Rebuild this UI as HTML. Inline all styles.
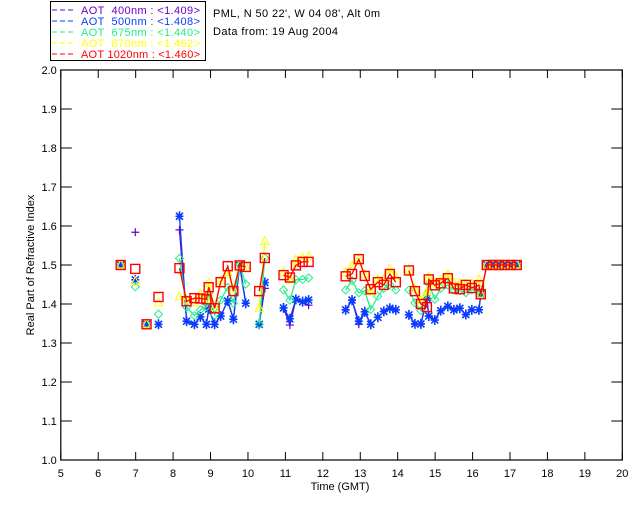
<!DOCTYPE html>
<html><head><meta charset="utf-8"><style>
body{margin:0;background:#fff;}
svg{display:block;font-family:"Liberation Sans","DejaVu Sans",sans-serif;}
</style></head><body>
<svg id="c" width="640" height="512" viewBox="0 0 640 512">
<g>
<rect x="50.5" y="1.5" width="155" height="59" fill="#fff" stroke="#000"/>
<g font-size="11">
<line x1="52" y1="10" x2="75" y2="10" stroke="#6a00c8" stroke-dasharray="5,3"/>
<text x="81" y="14" fill="#6a00c8" textLength="119" lengthAdjust="spacing" xml:space="preserve">AOT  400nm : &lt;1.409&gt;</text>
<line x1="52" y1="21" x2="75" y2="21" stroke="#0a3cff" stroke-dasharray="5,3"/>
<text x="81" y="25" fill="#0a3cff" textLength="119" lengthAdjust="spacing" xml:space="preserve">AOT  500nm : &lt;1.408&gt;</text>
<line x1="52" y1="32" x2="75" y2="32" stroke="#22ee88" stroke-dasharray="5,3"/>
<text x="81" y="36" fill="#22ee88" textLength="119" lengthAdjust="spacing" xml:space="preserve">AOT  675nm : &lt;1.440&gt;</text>
<line x1="52" y1="43" x2="75" y2="43" stroke="#ffff00" stroke-dasharray="5,3"/>
<text x="81" y="47" fill="#ffff00" textLength="119" lengthAdjust="spacing" xml:space="preserve">AOT  870nm : &lt;1.462&gt;</text>
<line x1="52" y1="54" x2="75" y2="54" stroke="#ff0000" stroke-dasharray="5,3"/>
<text x="81" y="58" fill="#ff0000" textLength="119" lengthAdjust="spacing" xml:space="preserve">AOT 1020nm : &lt;1.460&gt;</text>
</g></g>
<text x="213" y="17" font-size="11" textLength="167" lengthAdjust="spacing">PML, N 50 22', W 04 08', Alt 0m</text>
<text x="213" y="35" font-size="11" textLength="125" lengthAdjust="spacing">Data from: 19 Aug 2004</text>
<g id="axes"></g>
<g id="plot"></g>
<text x="340" y="490" font-size="11" text-anchor="middle">Time (GMT)</text>
<text transform="translate(34,265) rotate(-90)" font-size="11" text-anchor="middle">Real Part of Refractive Index</text>
</svg>
<script>
const times=[6.6,6.99,7.29,7.61,8.17,8.36,8.57,8.73,8.89,8.95,9.11,9.27,9.46,9.61,9.78,9.94,10.3,10.45,10.95,11.12,11.28,11.46,11.62,12.61,12.78,12.96,13.12,13.28,13.47,13.63,13.79,13.95,14.3,14.46,14.62,14.78,14.83,14.99,15.15,15.34,15.5,15.66,15.82,15.98,16.17,16.22,16.38,16.54,16.7,16.86,17.02,17.18];
const v400=[1.5,1.584,1.348,1.348,1.59,1.356,1.348,1.367,1.348,1.387,1.348,1.369,1.408,1.361,1.499,1.402,1.348,1.44,1.39,1.346,1.412,1.406,1.397,1.385,1.41,1.348,1.38,1.348,1.366,1.381,1.389,1.385,1.372,1.349,1.349,1.41,1.369,1.359,1.383,1.394,1.385,1.389,1.373,1.385,1.385,1.425,1.5,1.5,1.5,1.5,1.5,1.5];
const v500=[1.5,1.462,1.348,1.348,1.625,1.356,1.348,1.367,1.348,1.387,1.348,1.369,1.408,1.361,1.499,1.402,1.348,1.455,1.39,1.362,1.412,1.406,1.41,1.385,1.41,1.356,1.38,1.348,1.366,1.381,1.389,1.385,1.372,1.349,1.349,1.415,1.369,1.359,1.383,1.394,1.385,1.389,1.373,1.385,1.385,1.425,1.5,1.5,1.5,1.5,1.5,1.5];
const v675=[1.5,1.444,1.348,1.374,1.517,1.392,1.37,1.385,1.393,1.427,1.372,1.41,1.443,1.402,1.499,1.451,1.348,1.518,1.436,1.41,1.462,1.463,1.467,1.436,1.46,1.429,1.434,1.386,1.42,1.44,1.449,1.436,1.436,1.403,1.383,1.426,1.453,1.412,1.44,1.449,1.436,1.434,1.429,1.436,1.44,1.425,1.5,1.5,1.5,1.5,1.5,1.5];
const v870=[1.5,1.457,1.348,1.403,1.419,1.41,1.403,1.425,1.413,1.453,1.391,1.459,1.48,1.438,1.499,1.497,1.389,1.56,1.48,1.462,1.513,1.517,1.521,1.48,1.497,1.515,1.475,1.431,1.462,1.462,1.489,1.47,1.487,1.438,1.408,1.431,1.468,1.453,1.46,1.474,1.453,1.454,1.451,1.451,1.462,1.425,1.5,1.5,1.5,1.5,1.5,1.5];
const v1020=[1.5,1.49,1.348,1.418,1.492,1.407,1.415,1.414,1.412,1.443,1.389,1.456,1.497,1.433,1.499,1.495,1.433,1.518,1.474,1.468,1.499,1.508,1.508,1.471,1.477,1.515,1.472,1.438,1.456,1.449,1.477,1.456,1.486,1.433,1.40,1.392,1.463,1.448,1.453,1.466,1.44,1.438,1.449,1.441,1.448,1.425,1.5,1.5,1.5,1.5,1.5,1.5];
const xTicks=[5,6,7,8,9,10,11,12,13,14,15,16,17,18,19,20];
const yTicks=[1.0,1.1,1.2,1.3,1.4,1.5,1.6,1.7,1.8,1.9,2.0];

const X0=60.8,X1=622.3,Y0=460,Y1=70;
function sx(t){return X0+(t-5)/15*(X1-X0);}
function sy(v){return Y0-(v-1)/1*(Y0-Y1);}
const NS='http://www.w3.org/2000/svg';
function mk(tag,attrs,parent){const e=document.createElementNS(NS,tag);for(const k in attrs)e.setAttribute(k,attrs[k]);parent.appendChild(e);return e;}
const axes=document.getElementById('axes'),plot=document.getElementById('plot');
const frame=mk('rect',{x:X0,y:Y1,width:X1-X0,height:Y0-Y1,fill:'none',stroke:'#000','stroke-width':1.2},axes);


xTicks.forEach(t=>{
 const x=sx(t);
 const a=mk('line',{x1:x,y1:Y0,x2:x,y2:Y0-8,stroke:'#000'},axes);
 
 
 const b=mk('line',{x1:x,y1:Y1,x2:x,y2:Y1+8,stroke:'#000'},axes);
 
 
 const l=mk('text',{x:x,y:Y0+17,'font-size':11,'text-anchor':'middle'},axes);l.textContent=String(t);
 
 
});
yTicks.forEach(v=>{
 const y=sy(v);
 const a=mk('line',{x1:X0,y1:y,x2:X0+11,y2:y,stroke:'#000'},axes);
 
 
 const b=mk('line',{x1:X1,y1:y,x2:X1-11,y2:y,stroke:'#000'},axes);
 
 
 const l=mk('text',{x:X0-4,y:y+4,'font-size':11,'text-anchor':'end'},axes);l.textContent=v.toFixed(1);
 
 
});
function marker(type,x,y,c,g){
 let e;
 if(type==='plus'){e=mk('path',{d:`M${x-4},${y}H${x+4}M${x},${y-4}V${y+4}`,stroke:c,'stroke-width':1.2,fill:'none'},g);}
 else if(type==='star'){e=mk('path',{d:`M${x-4},${y}H${x+4}M${x},${y-5}V${y+5}M${x-3.5},${y-3.5}L${x+3.5},${y+3.5}M${x-3.5},${y+3.5}L${x+3.5},${y-3.5}`,stroke:c,'stroke-width':1.6,fill:'none'},g);}
 else if(type==='diamond'){e=mk('path',{d:`M${x},${y-4}L${x+4},${y}L${x},${y+4}L${x-4},${y}Z`,stroke:c,'stroke-width':1,fill:'none'},g);}
 else if(type==='tri'){e=mk('path',{d:`M${x},${y-5}L${x+4},${y+3}L${x-4},${y+3}Z`,stroke:c,'stroke-width':1,fill:'none'},g);}
 else {e=mk('rect',{x:x-4.5,y:y-4.5,width:9,height:9,stroke:c,'stroke-width':1.4,fill:'none'},g);}
 
 
}
const series=[['aot-400',v400,'#6a00c8','plus'],['aot-500',v500,'#0a3cff','star'],['aot-675',v675,'#22ee88','diamond'],['aot-870',v870,'#ffff00','tri'],['aot-1020',v1020,'#ff0000','sq']];
series.forEach(([name,vals,c,m])=>{
 const g=mk('g',{},plot);
 
 
 let d='';
 for(let i=0;i<times.length;i++){
  const x=sx(times[i]).toFixed(1),y=sy(vals[i]).toFixed(1);
  const conn=i>0&&times[i]-times[i-1]<0.25;
  d+=(conn?'L':'M')+x+','+y;
 }
 const p=mk('path',{d:d,stroke:c,'stroke-width':1.3,fill:'none'},g);
 
 
 for(let i=0;i<times.length;i++)marker(m,sx(times[i]),sy(vals[i]),c,g);
});
</script>
</body></html>
